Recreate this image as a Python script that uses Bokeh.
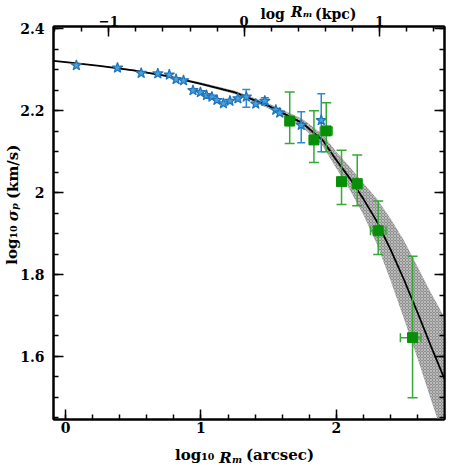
from bokeh.plotting import figure
from bokeh.models import Range1d, LinearAxis, FixedTicker, AllLabels
from bokeh.embed import file_html
from bokeh.resources import INLINE

# ---------------- data ----------------
curve_x = [-0.09, 0.0, 0.25, 0.5, 0.75, 1.0, 1.25, 1.5, 1.75, 1.9, 2.0, 2.1, 2.2, 2.3, 2.4, 2.5, 2.6, 2.7, 2.8]
curve_y = [2.322, 2.319, 2.310, 2.299, 2.285, 2.266, 2.245, 2.212, 2.170, 2.128, 2.080, 2.035, 1.985, 1.930, 1.862, 1.788, 1.708, 1.625, 1.545]
band_lo = [2.321, 2.318, 2.309, 2.297, 2.283, 2.263, 2.241, 2.206, 2.160, 2.114, 2.060, 2.007, 1.947, 1.875, 1.787, 1.693, 1.596, 1.495, 1.395]
band_hi = [2.323, 2.320, 2.311, 2.301, 2.287, 2.269, 2.249, 2.218, 2.180, 2.142, 2.100, 2.063, 2.023, 1.985, 1.937, 1.883, 1.820, 1.755, 1.695]

star_x = [0.079, 0.383, 0.558, 0.681, 0.766, 0.816, 0.871, 0.941, 0.996, 1.041, 1.081, 1.118,
          1.166, 1.214, 1.273, 1.335, 1.405, 1.472, 1.553, 1.582, 1.741, 1.889]
star_y = [2.311, 2.305, 2.292, 2.291, 2.288, 2.277, 2.274, 2.250, 2.245, 2.238, 2.234, 2.226,
          2.218, 2.224, 2.230, 2.234, 2.217, 2.224, 2.202, 2.195, 2.165, 2.177]
star_err_x = [1.335, 1.472, 1.741, 1.889]
star_err_lo = [2.209, 2.216, 2.122, 2.100]
star_err_hi = [2.252, 2.232, 2.198, 2.242]

green_x = [1.656, 1.835, 1.926, 2.039, 2.155, 2.310, 2.564]
green_y = [2.175, 2.129, 2.151, 2.027, 2.022, 1.907, 1.646]
green_lo = [2.120, 2.074, 2.100, 1.971, 1.968, 1.849, 1.499]
green_hi = [2.246, 2.200, 2.220, 2.104, 2.092, 1.980, 1.845]
green_xerr_y = [2.151, 1.907, 1.646]
green_xerr_lo = [1.882, 2.253, 2.474]
green_xerr_hi = [1.970, 2.368, 2.626]

x_ticks = [0, 1, 2]
x_tick_labels = ["0", "1", "2"]
kpc_ticks = [-1, 0, 1]
kpc_tick_labels = ["\u22121", "0", "1"]
y_ticks = [1.6, 1.8, 2.0, 2.2, 2.4]
y_tick_labels = ["1.6", "1.8", "2", "2.2", "2.4"]
kpc_offset = 1.319  # log R (arcsec) - log R (kpc)

# axis titles, split so that R and sigma can be italic (text pieces + where they sit)
xtitle_plain = ["log\u2081\u2080", "(arcsec)"]
xtitle_plain_at = [0.953, 1.584]
xtitle_ital = ["R\u2098"]
xtitle_ital_at = [1.222]
ytitle_plain = ["log\u2081\u2080", "(km/s)"]
ytitle_plain_at = [1.872, 2.051]
ytitle_ital = ["\u03c3\u209a"]
ytitle_ital_at = [1.953]
ttitle_plain = ["log", "(kpc)"]
ttitle_plain_at = [1.530, 1.996]
ttitle_ital = ["R\u2098"]
ttitle_ital_at = [1.746]

# ---------------- figure ----------------
X0, X1 = -0.09, 2.80
Y0, Y1 = 1.446, 2.406
FL, FT, FW, FH = 52, 24, 392, 395
W = H = 469
p = figure(width=W, height=H, output_backend="svg", toolbar_location=None,
           x_range=Range1d(X0, X1), y_range=Range1d(Y0, Y1),
           x_axis_location=None, y_axis_location=None,
           min_border_left=FL, min_border_right=W - FL - FW,
           min_border_top=FT, min_border_bottom=H - FT - FH)
p.grid.visible = False
p.outline_line_color = "black"
p.outline_line_width = 2
p.background_fill_color = "white"
p.extra_x_ranges = {"kpc": Range1d(X0 - kpc_offset, X1 - kpc_offset)}

FONT = "DejaVu Serif"


def style_axis(ax, label_size="14px", standoff=4):
    ax.axis_line_width = 2
    ax.major_tick_in = 10
    ax.major_tick_out = 0
    ax.minor_tick_in = 5
    ax.minor_tick_out = 0
    ax.major_tick_line_width = 1.5
    ax.minor_tick_line_width = 1.5
    ax.major_label_text_font = FONT
    ax.major_label_text_font_size = label_size
    ax.major_label_text_font_style = "bold"
    ax.major_label_text_color = "black"
    ax.major_label_standoff = standoff
    ax.major_label_policy = AllLabels()


def title_axis(ticks, labels, size, style, standoff, vertical=False):
    ax = LinearAxis(ticker=FixedTicker(ticks=ticks, minor_ticks=[]),
                    major_label_overrides=dict(zip(ticks, labels)),
                    major_label_policy=AllLabels())
    ax.axis_line_color = None
    ax.major_tick_line_color = None
    ax.minor_tick_line_color = None
    ax.major_tick_in = ax.major_tick_out = 0
    ax.minor_tick_in = ax.minor_tick_out = 0
    ax.major_label_text_font = FONT
    ax.major_label_text_font_size = size
    ax.major_label_text_font_style = style
    ax.major_label_text_color = "black"
    ax.major_label_standoff = standoff
    if vertical:
        ax.major_label_orientation = "vertical"
    return ax


xminor = [round(0.2 * i, 2) for i in range(-1, 15)]
kminor = [round(-1.4 + 0.2 * i, 2) for i in range(0, 15)]
yminor = [round(1.45 + 0.05 * i, 2) for i in range(0, 20)]

# bottom: ticks, then the title pieces stacked onto the same line
bottom = LinearAxis(ticker=FixedTicker(ticks=x_ticks, minor_ticks=xminor),
                    major_label_overrides=dict(zip(x_ticks, x_tick_labels)))
style_axis(bottom, "14px", 2)
p.add_layout(bottom, "below")
p.add_layout(title_axis(xtitle_plain_at, xtitle_plain, "15px", "bold", 10), "below")
p.add_layout(title_axis(xtitle_ital_at, xtitle_ital, "15px", "bold italic", -18), "below")

# top (kpc)
top = LinearAxis(x_range_name="kpc", ticker=FixedTicker(ticks=kpc_ticks, minor_ticks=kminor),
                 major_label_overrides=dict(zip(kpc_ticks, kpc_tick_labels)))
style_axis(top, "13px", 1)
p.add_layout(top, "above")
p.add_layout(title_axis(ttitle_plain_at, ttitle_plain, "14px", "bold", -9), "above")
p.add_layout(title_axis(ttitle_ital_at, ttitle_ital, "14px", "bold italic", -17), "above")

# left
left = LinearAxis(ticker=FixedTicker(ticks=y_ticks, minor_ticks=yminor),
                  major_label_overrides=dict(zip(y_ticks, y_tick_labels)))
style_axis(left, "14px", 9)
p.add_layout(left, "left")
p.add_layout(title_axis(ytitle_plain_at, ytitle_plain, "15px", "bold", -4, vertical=True), "left")
p.add_layout(title_axis(ytitle_ital_at, ytitle_ital, "15px", "bold italic", -22, vertical=True), "left")

# right (ticks only)
right = LinearAxis(ticker=FixedTicker(ticks=y_ticks, minor_ticks=yminor))
style_axis(right, "0px", 0)
right.major_label_text_alpha = 0
p.add_layout(right, "right")

# ---------------- glyphs ----------------
p.varea(x=curve_x, y1=band_lo, y2=band_hi, fill_color="#8e8e8e", fill_alpha=1.0,
        hatch_pattern="x", hatch_color="#ffffff", hatch_scale=3, hatch_weight=0.5, hatch_alpha=0.8)
p.line(curve_x, curve_y, line_color="black", line_width=1.8)

BLUE = "#2a8bd0"
BLUE_D = "#1f74b8"
p.segment(x0=star_err_x, y0=star_err_lo, x1=star_err_x, y1=star_err_hi, line_color=BLUE, line_width=1.5)
p.scatter(x=star_err_x + star_err_x, y=star_err_lo + star_err_hi, marker="dash", size=8,
          line_color=BLUE, line_width=1.5)
p.scatter(x=star_x, y=star_y, marker="star", size=11, fill_color="#4a9edb",
          line_color=BLUE_D, line_width=1.2)

GREEN = "#35a835"
GREEN_D = "#078f07"
p.segment(x0=green_x, y0=green_lo, x1=green_x, y1=green_hi, line_color=GREEN, line_width=1.5)
p.scatter(x=green_x + green_x, y=green_lo + green_hi, marker="dash", size=10,
          line_color=GREEN, line_width=1.5)
p.segment(x0=green_xerr_lo, y0=green_xerr_y, x1=green_xerr_hi, y1=green_xerr_y,
          line_color=GREEN, line_width=1.5)
p.scatter(x=green_xerr_lo + green_xerr_hi, y=green_xerr_y + green_xerr_y, marker="dash",
          angle=1.5708, size=9, line_color=GREEN, line_width=1.5)
p.scatter(x=green_x, y=green_y, marker="square", size=10, fill_color=GREEN_D, line_color=GREEN_D)

open("out.html", "w").write(file_html(p, INLINE))
